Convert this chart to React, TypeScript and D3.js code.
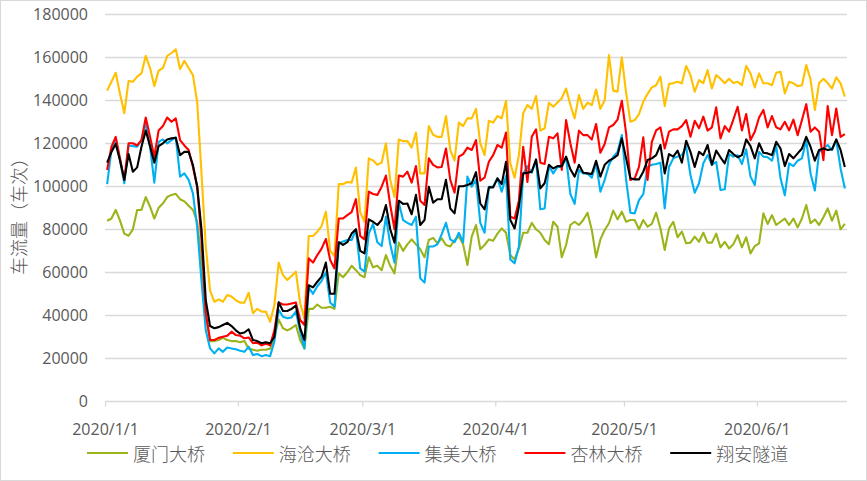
import React, { useEffect, useRef } from "react"
import * as d3 from "d3"

// daily traffic per crossing, in thousands of vehicles, 2020/1/1 .. 2020/6/21
const xiamenBridge = [
  84, 85, 89, 84, 78, 77, 80, 89, 89, 95,
  90.5, 85, 90, 92, 95, 96, 96.5, 94, 93, 91,
  89, 83.5, 65, 40, 28, 28, 28.5, 29.5, 28.5, 28,
  28, 27.5, 28, 24.5, 24, 23.5, 24, 24, 24.5, 30,
  38, 34, 33, 34, 35.5, 28.5, 24.5, 43, 43, 45,
  43.5, 43.5, 44, 43, 59.5, 57.7, 60, 63, 61, 58.7,
  57.7, 67, 62.3, 63, 61, 68, 63, 59.5, 73.8, 70,
  73, 75.3, 73, 70.7, 67, 75, 76, 73.5, 75.8, 72.7,
  72, 75, 76.6, 73, 63.4, 76.6, 82, 70.7, 72.7, 75.3,
  74.7, 78, 80.4, 78.4, 68, 66, 71, 78.4, 78.4, 83,
  80, 78.4, 75, 73, 83.5, 81.2, 67, 72.7, 82, 83.5,
  82, 84.3, 87.7, 79.7, 67, 75.3, 79.7, 82.8, 88.7, 84.6,
  88.2, 83.5, 84.3, 84.3, 80, 84.3, 81.2, 82.5, 87.7, 80.4,
  70.4, 80.4, 83.5, 76.3, 78.9, 73.5, 73.8, 76.6, 74.2, 78.4,
  73.8, 73.8, 78, 71.6, 74.2, 71.1, 73, 77.3, 71.6, 76.3,
  68.8, 72.2, 73.5, 87.4, 82.5, 86.6, 82, 83.5, 85, 82,
  85, 80.9, 85, 91.3, 82.8, 84.6, 82, 85.6, 89.7, 84,
  88.7, 80, 82.5,
]

const haicangBridge = [
  144.5, 148.6, 152.8, 143, 134, 149, 148.6, 151, 152.5, 160.7,
  155, 146.6, 153.8, 155, 160.6, 162, 163.7, 154.5, 158.4, 155,
  151.7, 139, 106, 72, 51.5, 46.3, 47.4, 46.3, 49.4, 48.7,
  47, 45.9, 45.9, 50.5, 41, 43, 41.7, 41.7, 37, 44.8,
  64.5, 58.7, 56.4, 58.3, 60.3, 45.6, 38.6, 76.9, 76.9, 78.9,
  81.5, 88.2, 70, 67.6, 101, 101, 102, 101.7, 108.7, 88,
  83.5, 113, 112, 110, 111, 120, 103, 95, 121.8, 121,
  121, 118, 125, 106, 106, 128, 124, 123, 123, 132.7,
  116.9, 112, 129.6, 128, 131.6, 131.6, 136, 120, 114.5, 130.5,
  129.6, 132.7, 131.6, 139.8, 110.7, 104, 114.5, 134, 137.8, 136,
  142, 125.9, 127, 138.9, 137, 139, 141, 145.5, 137.8, 131.6,
  142.4, 136, 138.9, 137.8, 145, 136, 140, 161, 144.5, 144,
  160, 143.5, 130, 130.8, 133.6, 139.3, 143, 146, 147, 151,
  137.3, 147.6, 148, 148.6, 147.9, 156, 151.7, 144, 149.4, 148,
  154, 145.5, 151.7, 150, 147.9, 150, 148, 148.6, 147, 156,
  152.5, 146, 152.5, 147.9, 147.9, 147, 152.8, 153.3, 143.2, 148.6,
  147.9, 146.6, 147, 156.4, 149.7, 135.5, 148, 150, 148, 145.5,
  150.7, 147.9, 141.7,
]

const jimeiBridge = [
  101, 116.9, 122.3, 112, 101.4, 119, 118.7, 118.4, 121.5, 129.6,
  118.4, 101.7, 120.7, 121.8, 120, 121.5, 122.8, 104.5, 106, 103,
  96.7, 81, 56, 33, 24.6, 22.3, 24.6, 23, 25, 24.6,
  24.2, 23.5, 23, 25.4, 21.5, 22, 21, 21.5, 21, 28,
  42.5, 39.3, 38.6, 39, 41.7, 32.4, 24.6, 53, 50, 53.5,
  56, 60, 46, 44, 73.5, 74.3, 75, 75, 80, 61.8,
  60.3, 78, 82.5, 74, 72.2, 85.9, 73, 64.5, 92.4, 84.3,
  83, 82, 85.9, 57.2, 55.2, 72, 72, 73, 77.8, 83,
  75.3, 74, 78.4, 74, 104.5, 99.8, 103, 83, 78.4, 99.8,
  99.8, 103.7, 97.5, 104.8, 66, 64.2, 72, 105.7, 109.4, 106.3,
  112.2, 89.3, 89.7, 109.4, 106, 109, 109, 113.5, 96.4, 91.8,
  107.6, 106, 106, 104, 110.7, 97.5, 103, 110, 113.8, 116,
  123.8, 103, 87.7, 87.4, 93.6, 96.4, 109, 110, 110.4, 111,
  89.7, 109, 113, 113.8, 114.5, 118.4, 105.2, 97, 101.4, 110.7,
  114.5, 110, 111.4, 98.3, 98.6, 115, 113.8, 114.5, 110.4, 117.2,
  104.5, 100.6, 116, 113.8, 113.5, 111.9, 118.7, 103.7, 95.8, 110.7,
  109.4, 111.9, 113, 121.5, 106, 98, 116, 117.6, 119.2, 116.9,
  121.5, 108.3, 99,
]

const xinglinBridge = [
  107.6, 118.4, 123, 113, 103, 120, 120, 119, 121.5, 132,
  123, 113.8, 126, 128, 132, 130, 131.6, 121.5, 119, 116.9,
  109, 99.8, 75, 41, 28.5, 28.5, 29.5, 30, 30.5, 32.4,
  30.8, 30.5, 29.3, 29.7, 27, 27.3, 26, 26.8, 26, 33,
  46, 45, 45, 45.5, 46, 37.8, 35.5, 66.5, 64.5, 68,
  71, 75.5, 65.7, 61.8, 85, 85, 86.6, 88, 94, 76.9,
  75.3, 97.5, 96.4, 96, 99.8, 105, 91.3, 80, 105, 104.5,
  106.8, 101.7, 109.4, 93.3, 91.3, 113, 110, 108.8, 109, 117.6,
  103, 97, 113.8, 115, 118, 116.9, 121.5, 102.6, 104, 111.4,
  114.5, 119.2, 118, 125, 85.9, 85, 93.3, 118.4, 102, 123,
  126.5, 111, 110.4, 123, 122.3, 124.6, 107.6, 130.8, 120, 111,
  125.9, 123.8, 123.8, 121.8, 129, 115.6, 119.7, 127.4, 128.5, 131,
  139.8, 124.6, 102.9, 103.7, 109, 122.8, 103, 120.7, 126, 127.4,
  117.6, 125.4, 126.5, 126.5, 128, 130.8, 123, 130.5, 127, 132.4,
  125.9, 127.4, 136.7, 122.3, 128, 125.4, 131, 137, 126, 133.6,
  121.5, 125.4, 132, 135.5, 127.4, 132.7, 127.4, 126.5, 130, 126,
  131, 123.8, 130.8, 138.2, 125.4, 127.4, 125.4, 112.2, 137.3, 123.8,
  136.2, 123, 124.3,
]

const xiangan = [
  111, 116, 119.7, 112, 103, 115, 106.8, 108.8, 118.4, 125.9,
  118.7, 111, 118.7, 120, 121.8, 122.3, 122.6, 114.5, 116, 116,
  109.9, 99.8, 80, 47, 35, 34, 34.5, 35.5, 36.5, 35,
  33, 31.5, 32, 33.5, 28.5, 28, 27, 27.5, 27, 30,
  46, 42, 42, 43, 44.5, 34, 28.5, 54, 53, 55.6,
  58, 64.5, 50, 50, 74, 72.7, 74, 78, 80, 70,
  68.8, 84.6, 83.5, 82, 84.3, 91.3, 80, 73.8, 93.3, 91.8,
  92, 87, 96, 82, 84.3, 99.8, 92.4, 94, 94, 103,
  89.7, 87.4, 100, 100, 100.6, 101.4, 106.6, 92, 89.3, 99.5,
  99.5, 103.7, 101, 111.4, 84.3, 80.4, 90.5, 106, 106.3, 106.8,
  112.5, 99, 101.4, 110, 108.3, 109.4, 109.4, 113.8, 107.9, 104.5,
  110, 106.3, 106, 105.7, 111.9, 104.5, 110, 111.9, 113, 114.5,
  122.3, 113, 103.7, 103.2, 103.2, 106.8, 112.2, 113, 114.5, 119.2,
  106, 115, 113.8, 116.6, 111, 121.2, 116, 109, 116, 114.5,
  119.2, 110, 116.6, 113.5, 110.7, 116.9, 115, 113.5, 114.5, 121.8,
  118.7, 113, 120, 115.6, 115.3, 114.5, 120.7, 117.6, 109.4, 115,
  113, 115.3, 117.6, 123, 118.4, 111.9, 116.9, 117.6, 116.9, 117.2,
  121.8, 116.9, 109,
]

const seriesNames = ["厦门大桥", "海沧大桥", "集美大桥", "杏林大桥", "翔安隧道"]
const seriesColors = ["#9cb31a", "#ffc000", "#00b0f0", "#ff0000", "#000000"]
const yTicks = [0, 20000, 40000, 60000, 80000, 100000, 120000, 140000, 160000, 180000]
const xTickLabels = ["2020/1/1", "2020/2/1", "2020/3/1", "2020/4/1", "2020/5/1", "2020/6/1"]
const yTitle = "车流量（车次）"

const W = 867
const H = 481
const left = 105
const right = 847
const top = 14.3
const bottom = 401.3
const grey = "#d9d9d9"
const textColor = "#595959"
const numFont = "'Open Sans', 'Liberation Sans', sans-serif"
const cjkFont = "'Noto Sans CJK SC', sans-serif"

export default function App() {
  const ref = useRef<SVGSVGElement>(null)

  useEffect(() => {
    const svg = d3.select(ref.current)
    svg.selectAll("*").remove()

    const parse = d3.timeParse("%Y/%m/%d")
    const start = parse(xTickLabels[0]) as Date
    const all = [xiamenBridge, haicangBridge, jimeiBridge, xinglinBridge, xiangan]
    const nDays = xiamenBridge.length
    const end = d3.timeDay.offset(start, nDays)

    const x = d3.scaleTime().domain([start, end]).range([left, right])
    const y = d3.scaleLinear().domain([0, 180000]).range([bottom, top])

    // each point sits in the middle of its day (date axis, between tick marks)
    const dayDate = (i: number) => d3.timeHour.offset(d3.timeDay.offset(start, i), 12)

    svg.append("rect")
      .attr("x", 0.5).attr("y", 0.5)
      .attr("width", W - 1).attr("height", H - 1)
      .attr("fill", "#fff").attr("stroke", grey)

    // gridlines
    svg.append("g").selectAll("line")
      .data(yTicks.slice(1))
      .enter().append("line")
      .attr("x1", left).attr("x2", right)
      .attr("y1", (d) => Math.round(y(d)) + 0.5)
      .attr("y2", (d) => Math.round(y(d)) + 0.5)
      .attr("stroke", grey).attr("stroke-width", 1.3)

    svg.append("g").selectAll("text")
      .data(yTicks)
      .enter().append("text")
      .attr("x", 88)
      .attr("y", (d) => y(d) + 5.6)
      .attr("text-anchor", "end")
      .attr("font-family", numFont)
      .attr("font-size", 16)
      .attr("fill", textColor)
      .text((d) => String(d))

    // x axis
    const xAxis = d3.axisBottom(x)
      .tickValues(xTickLabels.map((s) => parse(s) as Date))
      .tickFormat((_, i) => xTickLabels[i])
      .tickSize(5)
      .tickPadding(17)
    const gx = svg.append("g")
      .attr("transform", `translate(0,${Math.round(bottom) + 0.5})`)
      .call(xAxis)
    gx.select(".domain").attr("d", `M${left},0H${right}`).attr("stroke", grey).attr("stroke-width", 1.3)
    gx.selectAll(".tick line").attr("stroke", grey).attr("stroke-width", 1.3)
    gx.selectAll(".tick text")
      .attr("font-family", numFont)
      .attr("font-size", 16)
      .attr("fill", textColor)

    // series
    const line = d3.line<number>()
      .x((_, i) => x(dayDate(i)))
      .y((d) => y(d * 1000))

    svg.append("g").selectAll("path")
      .data(all)
      .enter().append("path")
      .attr("d", (d) => line(d))
      .attr("fill", "none")
      .attr("stroke", (_, i) => seriesColors[i])
      .attr("stroke-width", 2.1)
      .attr("stroke-linejoin", "round")

    // y title
    svg.append("text")
      .attr("transform", "translate(18,212) rotate(-90)")
      .attr("text-anchor", "middle")
      .attr("dominant-baseline", "central")
      .attr("font-family", cjkFont)
      .attr("font-weight", 300)
      .attr("font-size", 18)
      .attr("fill", textColor)
      .text(yTitle)

    // legend
    const lg = svg.append("g").selectAll("g")
      .data(seriesNames)
      .enter().append("g")
      .attr("transform", (_, i) => `translate(${87 + i * 145.8},453)`)
    lg.append("line")
      .attr("x1", 0).attr("x2", 41)
      .attr("stroke", (_, i) => seriesColors[i])
      .attr("stroke-width", 2.2)
    lg.append("text")
      .attr("x", 46)
      .attr("dominant-baseline", "central")
      .attr("font-family", cjkFont)
      .attr("font-weight", 300)
      .attr("font-size", 18)
      .attr("fill", textColor)
      .text((d) => d)
  }, [])

  return (
    <div style={{ position: "absolute", left: 0, top: 0 }}>
      <svg ref={ref} width={W} height={H} style={{ display: "block" }} />
    </div>
  )
}
